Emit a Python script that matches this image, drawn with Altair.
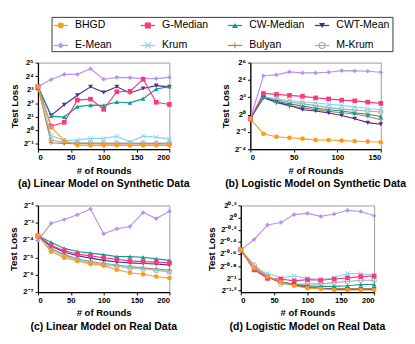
import altair as alt
import pandas as pd

FONT = "Liberation Sans"

methods = ["BHGD", "G-Median", "CW-Median", "CWT-Mean", "E-Mean", "Krum", "Bulyan", "M-Krum"]
colors = ["#FF9A1F", "#F63A7B", "#109C94", "#4E2A8E", "#B892F2", "#86D3F5", "#B98443", "#A9A9A9"]
shapes = ["circle", "square", "triangle-up", "triangle-down", "diamond",
          "M-1,-1L1,1M-1,1L1,-1", "M-1,0L1,0M0,-1L0,1", "circle"]
filled_methods = ["BHGD", "G-Median", "CW-Median", "CWT-Mean", "E-Mean"]
open_methods = ["Krum", "Bulyan", "M-Krum"]
legend_col = [0, 1, 2, 3, 0, 1, 2, 3]
legend_row = [0, 0, 0, 0, 1, 1, 1, 1]
draw_order = ["E-Mean", "M-Krum", "Bulyan", "Krum", "CWT-Mean", "CW-Median", "G-Median", "BHGD"]

# values are log2(test loss)
rounds_200 = [0, 20, 40, 60, 80, 100, 120, 140, 160, 180, 200]
rounds_150 = [0, 15, 30, 45, 60, 75, 90, 105, 120, 135, 150]

# (a) Linear model, synthetic data
a_bhgd = [3.21, 0.23, -0.76, -1.09, -1.11, -1.11, -1.11, -1.12, -1.11, -1.11, -1.11]
a_gmed = [3.21, 0.30, 0.59, 2.23, 2.30, 1.55, 2.85, 2.88, 3.77, 2.07, 1.91]
a_cwmed = [3.21, 1.05, 0.98, 1.75, 1.86, 1.84, 2.09, 2.03, 2.34, 3.05, 3.23]
a_cwtmean = [3.21, 1.10, 1.89, 2.59, 3.21, 2.80, 3.21, 2.76, 3.09, 3.30, 3.21]
a_emean = [3.21, 3.75, 4.13, 4.13, 4.55, 3.77, 3.91, 3.89, 3.82, 3.82, 3.91]
a_krum = [3.21, -0.38, -0.76, -0.72, -0.60, -0.60, -0.45, -0.86, -0.43, -0.50, -0.65]
a_bulyan = [3.21, -0.92, -0.97, -0.98, -0.99, -1.00, -1.00, -1.00, -1.00, -1.00, -1.01]
a_mkrum = [3.21, -0.72, -0.88, -0.92, -0.93, -0.94, -0.94, -0.95, -0.94, -0.95, -0.95]

# (b) Logistic model, synthetic data
b_bhgd = [-0.48, -2.22, -2.56, -2.67, -2.78, -2.93, -2.93, -3.00, -3.07, -3.11, -3.19]
b_gmed = [-0.48, 2.44, 2.33, 2.22, 2.11, 1.93, 1.81, 1.67, 1.59, 1.44, 1.30]
b_cwmed = [-0.48, 2.04, 1.56, 1.22, 1.00, 0.74, 0.56, 0.41, 0.22, 0.04, -0.22]
b_cwtmean = [-0.48, 1.96, 1.44, 1.07, 0.56, 0.41, 0.19, -0.11, -0.48, -0.93, -1.11]
b_emean = [-0.48, 4.48, 4.59, 4.93, 4.81, 4.81, 4.89, 5.07, 5.04, 5.00, 4.89]
b_krum = [-0.48, 2.07, 1.81, 1.63, 1.48, 1.37, 1.19, 1.07, 0.89, 0.70, 0.56]
b_bulyan = [-0.48, 2.00, 1.37, 1.00, 0.78, 0.56, 0.37, 0.22, 0.07, -0.22, -0.59]
b_mkrum = [-0.48, 2.07, 1.70, 1.44, 1.26, 1.04, 0.81, 0.63, 0.52, 0.41, 0.30]

# (c) Linear model, real data
c_bhgd = [-3.76, -4.66, -5.02, -5.20, -5.38, -5.47, -5.71, -5.88, -5.97, -6.10, -6.19]
c_gmed = [-3.76, -4.30, -4.61, -4.81, -4.91, -5.02, -5.11, -5.20, -5.24, -5.27, -5.31]
c_cwmed = [-3.76, -4.12, -4.48, -4.66, -4.75, -4.84, -4.95, -4.95, -4.99, -5.08, -5.17]
c_cwtmean = [-3.76, -4.34, -4.70, -4.90, -5.04, -5.17, -5.26, -5.31, -5.35, -5.38, -5.44]
c_emean = [-4.03, -3.03, -2.81, -2.54, -2.20, -3.64, -3.35, -3.22, -2.41, -2.76, -2.34]
c_krum = [-3.76, -4.54, -4.93, -5.11, -5.29, -5.38, -5.47, -5.56, -5.67, -5.74, -5.85]
c_bulyan = [-3.76, -4.48, -4.84, -5.08, -5.24, -5.35, -5.44, -5.53, -5.60, -5.67, -5.74]
c_mkrum = [-3.76, -4.52, -4.90, -5.13, -5.29, -5.42, -5.51, -5.60, -5.67, -5.74, -5.81]

# (d) Logistic model, real data
d_bhgd = [-0.53, -0.83, -0.97, -1.06, -1.12, -1.16, -1.17, -1.19, -1.19, -1.19, -1.19]
d_gmed = [-0.53, -0.86, -1.00, -1.01, -1.04, -1.02, -1.03, -1.01, -0.99, -0.97, -0.96]
d_cwmed = [-0.53, -0.83, -0.97, -1.05, -1.10, -1.12, -1.13, -1.13, -1.12, -1.10, -1.10]
d_cwtmean = [-0.53, -0.84, -0.98, -1.06, -1.11, -1.15, -1.17, -1.18, -1.18, -1.18, -1.18]
d_emean = [-0.53, -0.36, -0.12, -0.08, 0.05, 0.07, 0.02, 0.06, 0.12, 0.10, 0.03]
d_krum = [-0.53, -0.83, -0.92, -0.99, -0.96, -1.00, -1.02, -0.99, -0.92, -0.92, -0.95]
d_bulyan = [-0.53, -0.84, -0.97, -1.06, -1.10, -1.14, -1.16, -1.17, -1.17, -1.17, -1.17]
d_mkrum = [-0.53, -0.78, -0.96, -1.09, -1.10, -1.09, -1.09, -1.07, -1.05, -1.03, -1.03]

a_ticks = [-1, 0, 1, 2, 3, 4, 5]
b_ticks = [-4, -2, 0, 2, 4, 6]
c_ticks = [-7, -6, -5, -4, -3, -2]
d_ticks = [-1.2, -1, -0.8, -0.6, -0.4, -0.2, 0, 0.2]
a_dom = [-1.4, 5]
b_dom = [-4, 6]
c_dom = [-7, -2]
d_dom = [-1.225, 0.2]

captions = ["(a) Linear Model on Synthetic Data", "(b) Logistic Model on Synthetic Data",
            "(c) Linear Model on Real Data", "(d) Logistic Model on Real Data"]


def frame(rounds, series):
    rows = []
    for m in draw_order:
        for r, e in zip(rounds, series[m]):
            rows.append({"method": m, "round": r, "loss": 2.0 ** e})
    return pd.DataFrame(rows)


def sers(bh, gm, cwm, cwt, em, kr, bu, mk):
    return {"BHGD": bh, "G-Median": gm, "CW-Median": cwm, "CWT-Mean": cwt,
            "E-Mean": em, "Krum": kr, "Bulyan": bu, "M-Krum": mk}


SUP = str.maketrans("0123456789-.", "\u2070\u00b9\u00b2\u00b3\u2074\u2075\u2076\u2077\u2078\u2079\u207b\u00b7")


def pow_label(e):
    return "2" + f"{e:g}".translate(SUP)


def label_expr(exps):
    parts = [f"round(log(datum.value)/LN2*10)=={round(e * 10)} ? '{pow_label(e)}'" for e in exps]
    return " : ".join(parts) + " : ''"


color = alt.Color("method:N", scale=alt.Scale(domain=methods, range=colors), legend=None)
shape = alt.Shape("method:N", scale=alt.Scale(domain=methods, range=shapes), legend=None)


def panel(df, xmax, xticks, ydom, yticks, caption, w, h):
    x = alt.X("round:Q", scale=alt.Scale(domain=[0, xmax], nice=False, zero=False),
              axis=alt.Axis(values=xticks, title="# of Rounds"))
    y = alt.Y("loss:Q",
              scale=alt.Scale(type="log", base=2, domain=[2.0 ** ydom[0], 2.0 ** ydom[1]], nice=False),
              axis=alt.Axis(values=[2.0 ** e for e in yticks], labelExpr=label_expr(yticks), title="Test Loss"))
    base = alt.Chart(df)
    lines = base.mark_line(strokeWidth=1.2).encode(x=x, y=y, color=color, detail="method:N", order="round:Q")
    pts_o = base.transform_filter(alt.FieldOneOfPredicate(field="method", oneOf=open_methods)).mark_point(
        filled=False, size=24, strokeWidth=1, opacity=1).encode(x=x, y=y, color=color, shape=shape)
    pts_f = base.transform_filter(alt.FieldOneOfPredicate(field="method", oneOf=filled_methods)).mark_point(
        filled=True, size=24, opacity=1).encode(x=x, y=y, color=color, shape=shape)
    return alt.layer(lines, pts_o, pts_f).properties(
        width=w, height=h,
        title=alt.TitleParams(caption, orient="bottom", frame="group", anchor="middle", fontSize=11,
                              fontWeight="bold", font=FONT, color="black", offset=4))


df_a = frame(rounds_200, sers(a_bhgd, a_gmed, a_cwmed, a_cwtmean, a_emean, a_krum, a_bulyan, a_mkrum))
df_b = frame(rounds_150, sers(b_bhgd, b_gmed, b_cwmed, b_cwtmean, b_emean, b_krum, b_bulyan, b_mkrum))
df_c = frame(rounds_200, sers(c_bhgd, c_gmed, c_cwmed, c_cwtmean, c_emean, c_krum, c_bulyan, c_mkrum))
df_d = frame(rounds_200, sers(d_bhgd, d_gmed, d_cwmed, d_cwtmean, d_emean, d_krum, d_bulyan, d_mkrum))

pa = panel(df_a, 200, [0, 50, 100, 150, 200], a_dom, a_ticks, captions[0], 138, 91)
pb = panel(df_b, 150, [0, 50, 100, 150], b_dom, b_ticks, captions[1], 137, 91)
pc = panel(df_c, 200, [0, 50, 100, 150, 200], c_dom, c_ticks, captions[2], 138, 91)
pd_ = panel(df_d, 200, [0, 50, 100, 150, 200], d_dom, d_ticks, captions[3], 140, 91)

# legend built as a small chart
leg_df = pd.DataFrame({"method": methods, "col": legend_col, "row": legend_row})
lx = alt.X("col:Q", scale=alt.Scale(domain=[-0.105, 3.808], nice=False, zero=False), axis=None)
ly = alt.Y("row:Q", scale=alt.Scale(domain=[-0.43, 1.286], reverse=True, nice=False, zero=False), axis=None)
lbase = alt.Chart(leg_df)
seg = lbase.mark_point(shape="M-1,0L1,0", size=225, filled=False, strokeWidth=1.3, opacity=1).encode(
    x=lx, y=ly, color=color)
lo = lbase.transform_filter(alt.FieldOneOfPredicate(field="method", oneOf=open_methods)).mark_point(
    filled=False, size=40, strokeWidth=1.1, opacity=1).encode(x=lx, y=ly, color=color, shape=shape)
lf = lbase.transform_filter(alt.FieldOneOfPredicate(field="method", oneOf=filled_methods)).mark_point(
    filled=True, size=40, opacity=1).encode(x=lx, y=ly, color=color, shape=shape)
ltxt = lbase.mark_text(align="left", baseline="middle", dx=15, fontSize=11, font=FONT, color="black").encode(
    x=lx, y=ly, text="method:N")
legend = alt.layer(seg, lo, lf, ltxt).properties(
    width=358, height=36, view=alt.ViewBackground(stroke="#333333", strokeWidth=1))

row1 = alt.hconcat(pa, pb, spacing=32).resolve_scale(x="independent", y="independent")
row2 = alt.hconcat(pc, pd_, spacing=29).resolve_scale(x="independent", y="independent")
grid = alt.vconcat(row1, row2, spacing=11).resolve_scale(x="independent", y="independent")
chart = alt.vconcat(legend, grid, spacing=6, center=True).resolve_scale(
    x="independent", y="independent").properties(padding=0)

chart = chart.configure(font=FONT).configure_view(stroke="#9a9a9a", strokeWidth=1).configure_axis(
    domainColor="black", domainWidth=1.3, tickColor="black", tickSize=3, tickWidth=1,
    labelFont=FONT, labelFontSize=8, labelFontWeight="bold", labelColor="black", labelPadding=2,
    titleFont=FONT, titleFontSize=10, titleFontWeight="bold", titleColor="black", titlePadding=4,
    grid=False)

chart.save("out.html", embed_options={"renderer": "svg", "actions": False})
